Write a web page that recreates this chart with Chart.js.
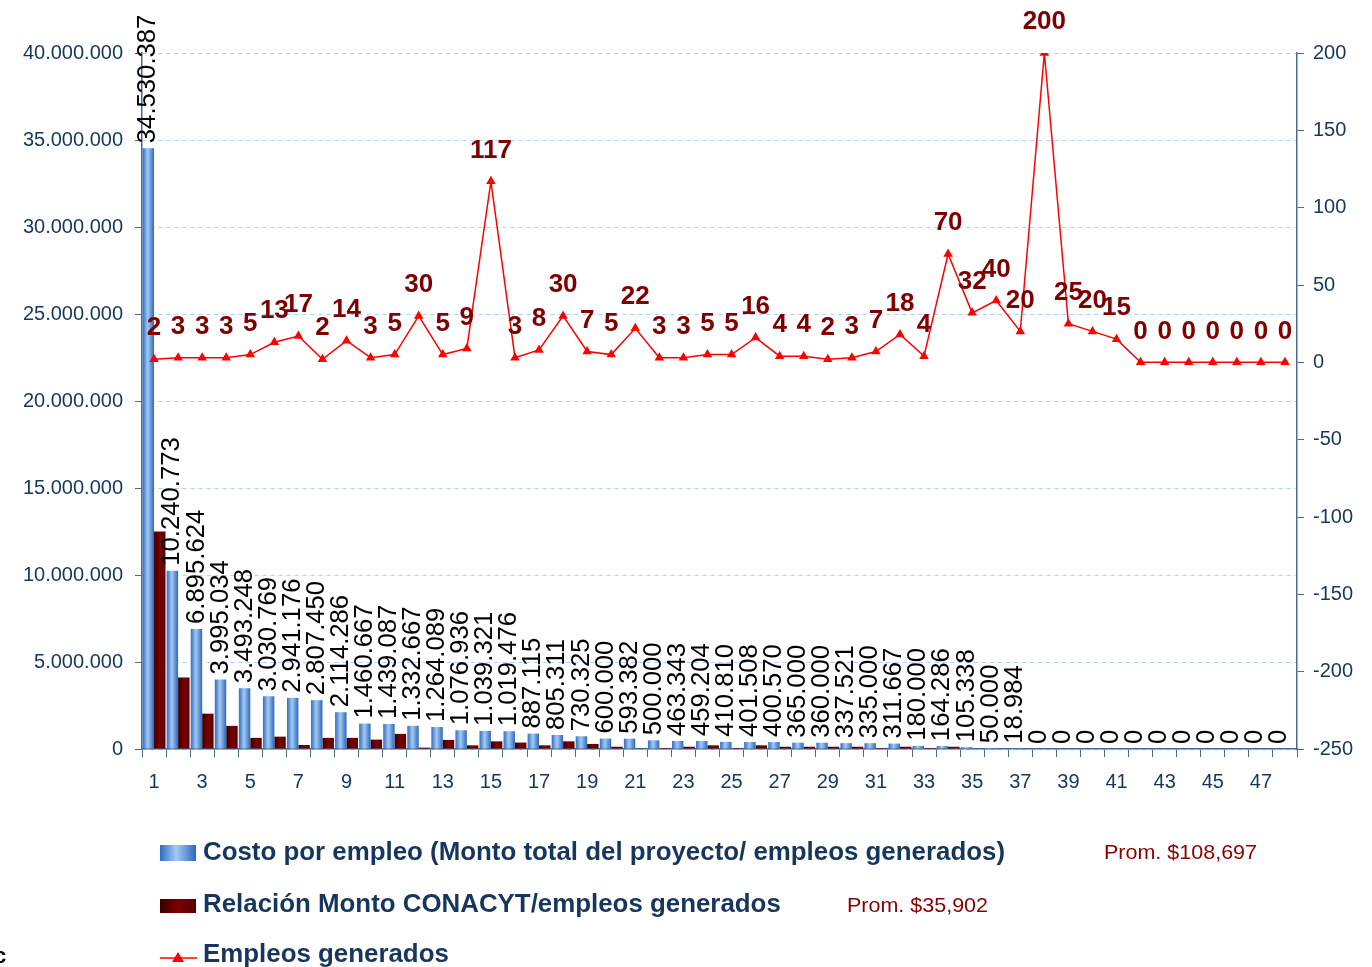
<!DOCTYPE html>
<html>
<head>
<meta charset="utf-8">
<script src="https://cdn.jsdelivr.net/npm/chart.js@4.4.1/dist/chart.umd.min.js"></script>
<style>
  html, body { margin: 0; padding: 0; background: #fff; }
  #wrap { width: 1372px; height: 967px; position: relative; }
</style>
</head>
<body>
<div id="wrap"><canvas id="grafica" width="1372" height="967"></canvas></div>
<script>
// --- Datos ---
const categorias = [1, 2, 3, 4, 5, 6, 7, 8, 9, 10, 11, 12, 13, 14, 15, 16, 17, 18, 19, 20, 21, 22, 23, 24,
    25, 26, 27, 28, 29, 30, 31, 32, 33, 34, 35, 36, 37, 38, 39, 40, 41, 42, 43, 44, 45, 46, 47, 48];

// Costo por empleo (Monto total del proyecto / empleos generados)
const costoPorEmpleo = [34530387, 10240773, 6895624, 3995034, 3493248, 3030769, 2941176, 2807450,
    2114286, 1460667, 1439087, 1332667, 1264089, 1076936, 1039321, 1019476, 887115, 805311, 730325,
    600000, 593382, 500000, 463343, 459204, 410810, 401508, 400570, 365000, 360000, 337521, 335000,
    311667, 180000, 164286, 105338, 50000, 18984, 0, 0, 0, 0, 0, 0, 0, 0, 0, 0, 0];

// Relación Monto CONACYT / empleos generados (estimado a partir de la altura de las barras)
const relacionConacyt = [12500000, 4110000, 2030000, 1330000, 640000, 710000, 230000, 640000,
    640000, 540000, 870000, 80000, 520000, 210000, 440000, 370000, 210000, 440000, 290000,
    130000, 20000, 60000, 130000, 210000, 60000, 210000, 130000, 130000, 130000, 130000, 60000,
    130000, 60000, 130000, 0, 0, 0, 0, 0, 0, 0, 0, 0, 0, 0, 0, 0, 0];

// Empleos generados (eje derecho)
const empleosGenerados = [2, 3, 3, 3, 5, 13, 17, 2, 14, 3, 5, 30, 5, 9, 117, 3, 8, 30, 7, 5, 22, 3, 3, 5,
    5, 16, 4, 4, 2, 3, 7, 18, 4, 70, 32, 40, 20, 200, 25, 20, 15, 0, 0, 0, 0, 0, 0, 0];

const ejeIzq = { min: 0, max: 40000000, paso: 5000000 };
const ejeDer = { min: -250, max: 200, paso: 50 };

const leyenda = [
    'Costo por empleo (Monto total del proyecto/ empleos generados)',
    'Relación Monto CONACYT/empleos generados',
    'Empleos generados'
];
const promedios = ['Prom. $108,697', 'Prom. $35,902'];

// --- Estilos ---
const AZUL_TEXTO = '#17365D';
const COLOR_EJE = '#4A6A96';
const ROJO_ETIQ = '#7F0000';
const FUENTE = '"Liberation Sans", Arial, sans-serif';
const stopsAzul = [[0, '#2F6DC3'], [0.45, '#A4CAF3'], [1, '#2C68BC']];
const stopsRojo = [[0, '#360000'], [0.5, '#7E0000'], [1, '#560000']];
const ANCHO_CAT = 0.95;

function formatoMiles(v) {
    return String(Math.round(v)).replace(/\B(?=(\d{3})+(?!\d))/g, '.');
}

function gradiente(ctx, x0, x1, stops) {
    const g = ctx.createLinearGradient(x0, 0, x1, 0);
    stops.forEach(s => g.addColorStop(s[0], s[1]));
    return g;
}

// gradiente horizontal por barra, calculado desde la escala x
function rellenoBarra(stops, lado) {
    return function(context) {
        const chart = context.chart;
        const xs = chart.scales.x;
        if (!xs || !chart.chartArea || context.dataIndex === undefined) return stops[1][1];
        const anchoBarra = (xs.width / categorias.length) * ANCHO_CAT / 2;
        const centro = xs.getPixelForValue(context.dataIndex) + lado * anchoBarra / 2;
        return gradiente(chart.ctx, centro - anchoBarra / 2, centro + anchoBarra / 2, stops);
    };
}

const etiquetasPlugin = {
    id: 'etiquetas',
    afterDatasetsDraw(chart) {
        const ctx = chart.ctx;
        const metaCosto = chart.getDatasetMeta(1);
        const metaLinea = chart.getDatasetMeta(0);

        // etiquetas verticales de las barras azules
        ctx.save();
        ctx.fillStyle = '#000';
        ctx.font = '25.7px ' + FUENTE;
        ctx.textAlign = 'left';
        ctx.textBaseline = 'middle';
        metaCosto.data.forEach((bar, i) => {
            ctx.save();
            ctx.translate(bar.x, bar.y - 5);
            ctx.rotate(-Math.PI / 2);
            ctx.fillText(formatoMiles(costoPorEmpleo[i]), 0, 0);
            ctx.restore();
        });
        ctx.restore();

        // etiquetas de la línea
        ctx.save();
        ctx.fillStyle = ROJO_ETIQ;
        ctx.font = 'bold 26px ' + FUENTE;
        ctx.textAlign = 'center';
        ctx.textBaseline = 'middle';
        metaLinea.data.forEach((pt, i) => {
            ctx.fillText(String(empleosGenerados[i]), pt.x, pt.y - 31);
        });
        ctx.restore();
    },
    afterDraw(chart) {
        const ctx = chart.ctx;
        const xTexto = 203;
        const filas = [853, 905, 955];

        ctx.save();
        // muestras
        ctx.fillStyle = gradiente(ctx, 160, 196, stopsAzul);
        ctx.fillRect(160, 845, 36, 16);
        ctx.fillStyle = gradiente(ctx, 160, 196, stopsRojo);
        ctx.fillRect(160, 899, 36, 14);
        ctx.strokeStyle = '#FF0000';
        ctx.lineWidth = 1.5;
        ctx.beginPath();
        ctx.moveTo(160, 958);
        ctx.lineTo(197, 958);
        ctx.stroke();
        ctx.fillStyle = '#FF0000';
        ctx.beginPath();
        ctx.moveTo(178, 952);
        ctx.lineTo(184, 962);
        ctx.lineTo(172, 962);
        ctx.closePath();
        ctx.fill();

        // textos de la leyenda (fuente angosta: se comprime horizontalmente)
        ctx.font = 'bold 25px ' + FUENTE;
        ctx.textBaseline = 'middle';
        ctx.textAlign = 'left';
        ctx.fillStyle = AZUL_TEXTO;
        const escala = 802 / ctx.measureText(leyenda[0]).width;
        leyenda.forEach((txt, i) => {
            ctx.save();
            ctx.translate(xTexto, filas[i]);
            ctx.scale(escala, 1);
            ctx.fillText(txt, 0, 0);
            ctx.restore();
        });

        ctx.font = '21px ' + FUENTE;
        ctx.fillStyle = '#8B0000';
        const posProm = [[1104, 853, 153], [847, 906, 141]];
        promedios.forEach((txt, i) => {
            const p = posProm[i];
            const s = p[2] / ctx.measureText(txt).width;
            ctx.save();
            ctx.translate(p[0], p[1]);
            ctx.scale(s, 1);
            ctx.fillText(txt, 0, 0);
            ctx.restore();
        });

        ctx.fillStyle = '#000';
        ctx.font = 'bold 22px ' + FUENTE;
        ctx.fillText('c', -6, 957);
        ctx.restore();
    }
};

const chart = new Chart(document.getElementById('grafica'), {
    type: 'bar',
    data: {
        labels: categorias,
        datasets: [
            {
                type: 'line',
                label: leyenda[2],
                data: empleosGenerados,
                yAxisID: 'y1',
                order: 0,
                borderColor: '#FF0000',
                borderWidth: 1.5,
                backgroundColor: '#FF0000',
                pointStyle: 'triangle',
                pointRadius: 5.5,
                pointBackgroundColor: '#FF0000',
                pointBorderColor: '#FF0000',
                pointBorderWidth: 0,
                tension: 0,
                fill: false
            },
            {
                label: leyenda[0],
                data: costoPorEmpleo,
                yAxisID: 'y',
                order: 1,
                backgroundColor: rellenoBarra(stopsAzul, -1),
                categoryPercentage: ANCHO_CAT,
                barPercentage: 1.0
            },
            {
                label: leyenda[1],
                data: relacionConacyt,
                yAxisID: 'y',
                order: 2,
                backgroundColor: rellenoBarra(stopsRojo, 1),
                categoryPercentage: ANCHO_CAT,
                barPercentage: 1.0
            }
        ]
    },
    options: {
        responsive: false,
        animation: false,
        devicePixelRatio: 1,
        layout: { padding: { top: 53, left: 0, right: 0, bottom: 0 } },
        plugins: {
            legend: { display: false },
            tooltip: { enabled: false }
        },
        scales: {
            x: {
                offset: true,
                grid: { drawOnChartArea: false, tickLength: 8, tickColor: COLOR_EJE, offset: true },
                border: { color: COLOR_EJE, width: 1.5 },
                ticks: {
                    autoSkip: false,
                    maxRotation: 0,
                    padding: 13,
                    color: AZUL_TEXTO,
                    font: { size: 20, family: FUENTE },
                    callback: function(v, i) { return i % 2 === 0 ? String(categorias[i]) : ''; }
                },
                afterFit: function(s) { s.height = 218; }
            },
            y: {
                position: 'left',
                min: ejeIzq.min,
                max: ejeIzq.max,
                grid: { color: '#A9D1F7', lineWidth: 1, tickLength: 7, tickColor: COLOR_EJE, tickBorderDash: [] },
                border: { color: COLOR_EJE, width: 1.5, dash: [4, 4] },
                ticks: {
                    stepSize: ejeIzq.paso,
                    padding: 12,
                    color: AZUL_TEXTO,
                    font: { size: 20, family: FUENTE },
                    callback: v => formatoMiles(v)
                },
                afterFit: function(s) { s.width = 142; }
            },
            y1: {
                position: 'right',
                min: ejeDer.min,
                max: ejeDer.max,
                grid: { drawOnChartArea: false, tickLength: 7, tickColor: COLOR_EJE },
                border: { color: COLOR_EJE, width: 1.5 },
                ticks: {
                    stepSize: ejeDer.paso,
                    padding: 9,
                    color: AZUL_TEXTO,
                    font: { size: 20, family: FUENTE }
                },
                afterFit: function(s) { s.width = 75; }
            }
        }
    },
    plugins: [etiquetasPlugin]
});
</script>
</body>
</html>
